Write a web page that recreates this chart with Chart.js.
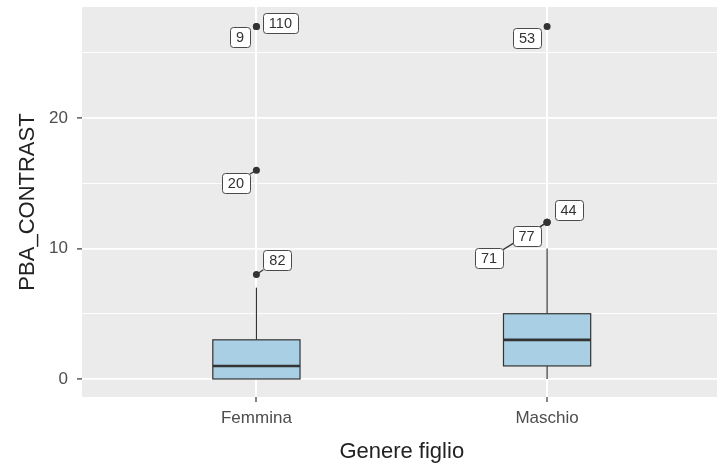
<!DOCTYPE html>
<html><head><meta charset="utf-8">
<script src="https://cdn.jsdelivr.net/npm/chart.js@4/dist/chart.umd.min.js"></script>
<style>html,body{margin:0;padding:0;overflow:hidden;background:#fff;width:717px;height:470px}</style>
</head><body>
<canvas id="c" width="725" height="470" style="width:725px;height:470px;display:block"></canvas>
<script>
// ---- data ----
const categories = ['Femmina', 'Maschio'];
const q1 = [0, 1];
const medians = [1, 3];
const q3 = [3, 5];
const whiskerLow = [0, 0];
const whiskerHigh = [7, 10];
const outlierGroup = [0, 0, 0, 0, 1, 1, 1, 1];
const outlierValues = [27, 27, 16, 8, 27, 12, 12, 12];
const outlierLabels = ['9', '110', '20', '82', '53', '44', '77', '71'];
const yMajorTicks = [0, 10, 20];
const yMinorTicks = [5, 15, 25];

// ---- label placement (repel offsets, px) ----
const labelOffsets = [[-16.5,10],[24,-4],[-20.5,12.5],[21,-14.5],[-20,11.5],[21.5,-12],[-20.5,13.5],[-58,36]];
const labelSegment = [false,false,true,true,false,false,true,true];

const FONT = '"Liberation Sans", Arial, Helvetica, sans-serif';
Chart.defaults.font.family = FONT;

const panelBg = {
  id: 'panelBg',
  beforeDraw(chart) {
    const {ctx, chartArea: a} = chart;
    ctx.save();
    ctx.fillStyle = '#EBEBEB';
    ctx.fillRect(a.left, a.top, a.right - a.left, a.bottom - a.top);
    ctx.restore();
  }
};

const boxes = {
  id: 'boxes',
  beforeDatasetsDraw(chart) {
    const {ctx} = chart;
    const xs = chart.scales.x, ys = chart.scales.y;
    ctx.save();
    categories.forEach((c, i) => {
      const xc = xs.getPixelForValue(i + 1);
      const xl = xs.getPixelForValue(i + 1 - 0.15);
      const xr = xs.getPixelForValue(i + 1 + 0.15);
      const yq1 = ys.getPixelForValue(q1[i]);
      const yq3 = ys.getPixelForValue(q3[i]);
      const ymed = ys.getPixelForValue(medians[i]);
      const ylo = ys.getPixelForValue(whiskerLow[i]);
      const yhi = ys.getPixelForValue(whiskerHigh[i]);
      ctx.strokeStyle = '#333333';
      ctx.lineWidth = 1.2;
      ctx.beginPath();
      ctx.moveTo(xc, yq3); ctx.lineTo(xc, yhi);
      ctx.moveTo(xc, yq1); ctx.lineTo(xc, ylo);
      ctx.stroke();
      ctx.fillStyle = '#a9cfe4';
      ctx.fillRect(xl, yq3, xr - xl, yq1 - yq3);
      ctx.strokeRect(xl, yq3, xr - xl, yq1 - yq3);
      ctx.lineWidth = 2.6;
      ctx.beginPath();
      ctx.moveTo(xl, ymed); ctx.lineTo(xr, ymed);
      ctx.stroke();
    });
    ctx.restore();
  }
};

function roundRect(ctx, x, y, w, h, r) {
  ctx.beginPath();
  ctx.moveTo(x + r, y);
  ctx.lineTo(x + w - r, y);
  ctx.arcTo(x + w, y, x + w, y + r, r);
  ctx.lineTo(x + w, y + h - r);
  ctx.arcTo(x + w, y + h, x + w - r, y + h, r);
  ctx.lineTo(x + r, y + h);
  ctx.arcTo(x, y + h, x, y + h - r, r);
  ctx.lineTo(x, y + r);
  ctx.arcTo(x, y, x + r, y, r);
  ctx.closePath();
}

const labels = {
  id: 'labels',
  afterDatasetsDraw(chart) {
    const {ctx} = chart;
    const xs = chart.scales.x, ys = chart.scales.y;
    ctx.save();
    ctx.font = '14.5px ' + FONT;
    const items = outlierLabels.map((t, i) => {
      const px = xs.getPixelForValue(outlierGroup[i] + 1);
      const py = ys.getPixelForValue(outlierValues[i]);
      const w = ctx.measureText(t).width + 12;
      const h = 20;
      const cx = px + labelOffsets[i][0], cy = py + labelOffsets[i][1];
      return {t, px, py, w, h, cx, cy, seg: labelSegment[i]};
    });
    ctx.strokeStyle = '#333333';
    ctx.lineWidth = 1.2;
    items.forEach(it => {
      if (!it.seg) return;
      const dx = it.cx - it.px, dy = it.cy - it.py;
      const tx = Math.abs(dx) > 0 ? (it.w / 2) / Math.abs(dx) : Infinity;
      const ty = Math.abs(dy) > 0 ? (it.h / 2) / Math.abs(dy) : Infinity;
      const t = 1 - Math.min(tx, ty);
      ctx.beginPath();
      ctx.moveTo(it.px, it.py);
      ctx.lineTo(it.px + dx * t, it.py + dy * t);
      ctx.stroke();
    });
    ctx.textAlign = 'center';
    ctx.textBaseline = 'middle';
    items.forEach(it => {
      const x = Math.round(it.cx - it.w / 2) + 0.5, y = Math.round(it.cy - it.h / 2) + 0.5;
      roundRect(ctx, x, y, Math.round(it.w), it.h, 3);
      ctx.fillStyle = '#ffffff';
      ctx.fill();
      ctx.strokeStyle = '#4a4a4a';
      ctx.lineWidth = 1;
      ctx.stroke();
      ctx.fillStyle = '#333333';
      ctx.fillText(it.t, it.cx, it.cy + 1);
    });
    ctx.restore();
  }
};

const scatterData = outlierValues.map((v, i) => ({x: outlierGroup[i] + 1, y: v}));

new Chart(document.getElementById('c'), {
  type: 'scatter',
  data: {
    datasets: [{
      data: scatterData,
      pointRadius: 3.5,
      pointHoverRadius: 3.5,
      backgroundColor: '#333333',
      borderWidth: 0
    }]
  },
  options: {
    responsive: false,
    devicePixelRatio: 1,
    animation: false,
    events: [],
    layout: {padding: {top: 7, right: 1, left: 0, bottom: 0}},
    plugins: {legend: {display: false}, tooltip: {enabled: false}},
    scales: {
      x: {
        type: 'linear',
        min: 0.4, max: 2.6,
        afterBuildTicks: s => { s.ticks = categories.map((c, i) => ({value: i + 1})); },
        afterFit: s => { s.height = 73; s.paddingLeft = 0; s.paddingRight = 0; },
        ticks: {
          callback: v => categories[v - 1] || '',
          font: {size: 17}, color: '#4D4D4D', padding: 6,
          autoSkip: false, maxRotation: 0
        },
        grid: {color: '#ffffff', lineWidth: 2, tickColor: '#333333', tickLength: 5, tickWidth: 1.2},
        border: {display: false},
        title: {display: true, text: 'Genere figlio', font: {size: 22}, color: '#222222', padding: {top: 0, bottom: 5}}
      },
      y: {
        type: 'linear',
        min: -1.38, max: 28.5,
        afterBuildTicks: s => { s.ticks = yMajorTicks.concat(yMinorTicks).sort((a, b) => a - b).map(v => ({value: v})); },
        afterFit: s => { s.width = 82; s.paddingTop = 0; s.paddingBottom = 0; },
        ticks: {
          callback: v => yMajorTicks.includes(v) ? String(v) : '',
          font: {size: 17}, color: '#4D4D4D', padding: 9
        },
        grid: {
          color: '#ffffff',
          lineWidth: c => (c.tick && yMajorTicks.includes(c.tick.value)) ? 1.8 : 0.9,
          tickColor: c => (c.tick && yMajorTicks.includes(c.tick.value)) ? '#333333' : 'rgba(0,0,0,0)',
          tickLength: 5, tickWidth: 1.2
        },
        border: {display: false},
        title: {display: true, text: 'PBA_CONTRAST', font: {size: 22}, color: '#222222', padding: {top: 15, bottom: 0}}
      }
    }
  },
  plugins: [panelBg, boxes, labels]
});
</script>
</body></html>
